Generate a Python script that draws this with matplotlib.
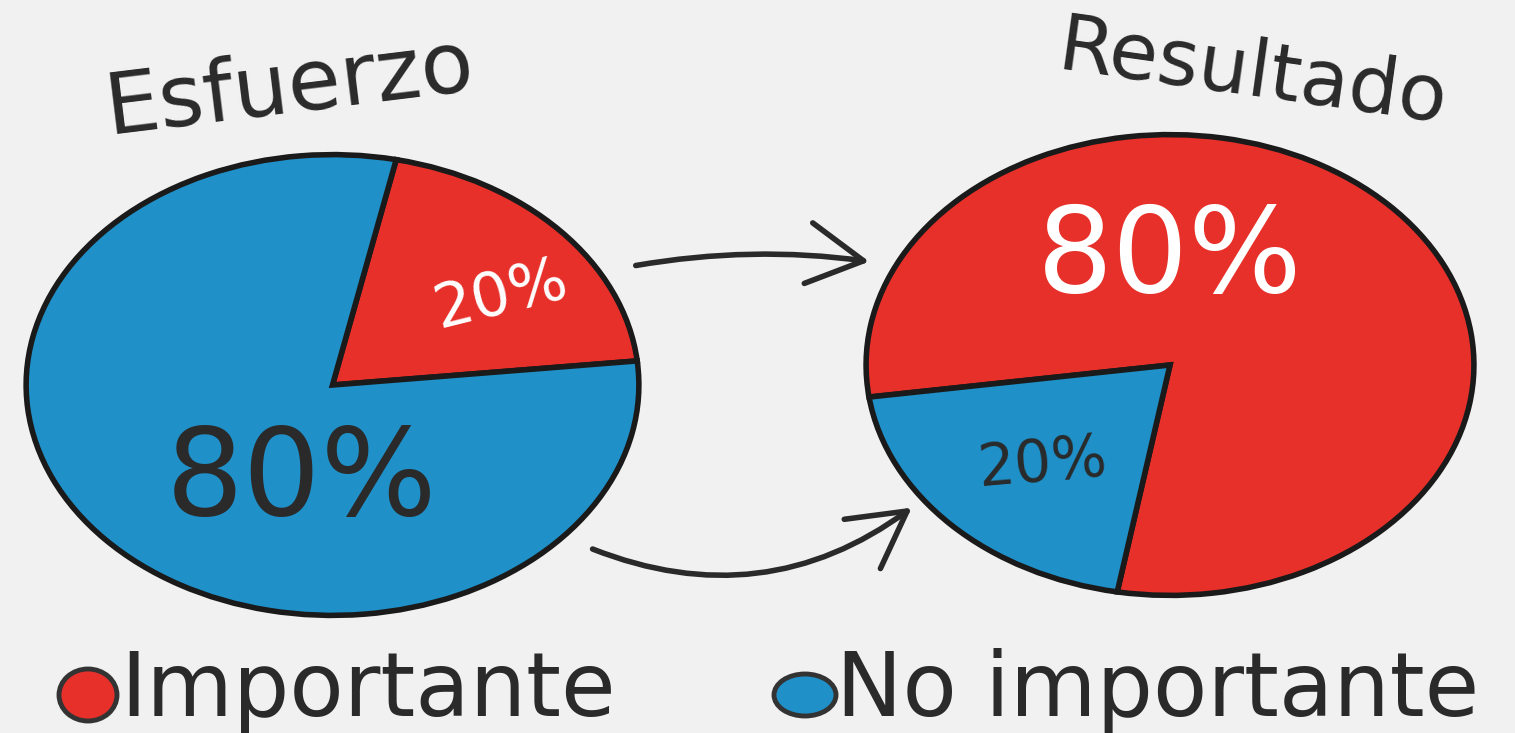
import matplotlib
matplotlib.use('Agg')
import matplotlib.pyplot as plt
from matplotlib.patches import Ellipse, FancyArrowPatch

plt.rcParams['font.family'] = ['DejaVu Sans']

# datos
categorias = ['Importante', 'No importante']
esfuerzo = [20, 80]          # Importante, No importante
resultado = [80, 20]         # Importante, No importante
titulos = ['Esfuerzo', 'Resultado']

rojo = '#e8302a'
azul = '#1f90c8'
tinta = '#2a2a2a'

W, H = 1515, 733
fig = plt.figure(figsize=(W / 100, H / 100), dpi=100)
fig.patch.set_facecolor('#f1f1f1')

# capa de fondo en pixeles para textos, flechas y leyenda
bg = fig.add_axes([0, 0, 1, 1])
bg.set_xlim(0, W)
bg.set_ylim(H, 0)
bg.axis('off')


def caja(x0, y0, x1, y1):
    return [x0 / W, 1 - y1 / H, (x1 - x0) / W, (y1 - y0) / H]


# pastel izquierdo: Esfuerzo
ax1 = fig.add_axes(caja(20, 150, 645, 620))
ax1.pie(esfuerzo, colors=[rojo, azul], startangle=6, counterclock=True,
        wedgeprops=dict(edgecolor='#1a1a1a', linewidth=4))
ax1.set_aspect('auto')
ax1.set_xlim(-1.02, 1.02)
ax1.set_ylim(-1.02, 1.02)
ax1.text(0.55, 0.39, f'{esfuerzo[0]}%', color='white', fontsize=44,
         ha='center', va='center', rotation=14)
ax1.text(-0.10, -0.42, f'{esfuerzo[1]}%', color=tinta, fontsize=88,
         ha='center', va='center')

# pastel derecho: Resultado
ax2 = fig.add_axes(caja(860, 130, 1480, 600))
ax2.pie(resultado, colors=[rojo, azul], startangle=260, counterclock=True,
        wedgeprops=dict(edgecolor='#1a1a1a', linewidth=4))
ax2.set_aspect('auto')
ax2.set_xlim(-1.02, 1.02)
ax2.set_ylim(-1.02, 1.02)
ax2.text(0.0, 0.46, f'{resultado[0]}%', color='white', fontsize=86,
         ha='center', va='center')
ax2.text(-0.42, -0.43, f'{resultado[1]}%', color=tinta, fontsize=42,
         ha='center', va='center', rotation=5)

# titulos
bg.text(290, 88, titulos[0], fontsize=62, color=tinta, ha='center',
        va='center', rotation=7)
bg.text(1252, 74, titulos[1], fontsize=57, color=tinta, ha='center',
        va='center', rotation=-8)

# flechas
for (x0, y0), (x1, y1), rad in [((633, 266), (872, 262), -0.08),
                                ((590, 548), (914, 506), 0.28)]:
    bg.add_patch(FancyArrowPatch((x0, y0), (x1, y1),
                                 connectionstyle=f'arc3,rad={rad}',
                                 arrowstyle='->,head_length=2.0,head_width=1.1',
                                 mutation_scale=20, color=tinta, lw=4))

# leyenda
for (cx, cy, w, h), color, nombre, tx in [((88, 695, 58, 52), rojo, categorias[0], 120),
                                          ((805, 695, 62, 42), azul, categorias[1], 836)]:
    bg.add_patch(Ellipse((cx, cy), w, h, facecolor=color, edgecolor='#333333',
                         linewidth=3.5))
    bg.text(tx, 716, nombre, fontsize=64, color=tinta, ha='left', va='baseline')

fig.savefig('out.png', dpi=100, facecolor=fig.get_facecolor())
